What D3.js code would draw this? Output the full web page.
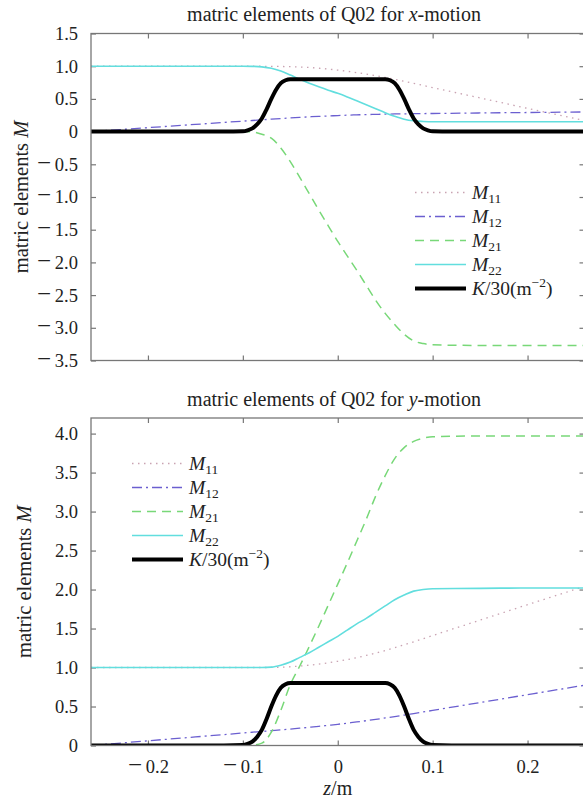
<!DOCTYPE html>
<html><head><meta charset="utf-8">
<script src="https://cdn.jsdelivr.net/npm/d3@7"></script>
<style>
body{margin:0;background:#fff}
text{font-family:"Liberation Serif","Times New Roman",serif;fill:#222}
</style>
</head><body>
<svg id="chart" width="583" height="804"></svg>
<script>
// ---------- data ----------
const zGrid = [-0.26,-0.2,-0.15,-0.1,-0.09,-0.08,-0.07,-0.06,-0.05,-0.04,-0.03,-0.02,-0.01,0,0.01,0.02,0.03,0.04,0.05,0.06,0.07,0.08,0.09,0.1,0.15,0.2,0.26];

// x-motion
const xM11 = [1,1,1,1,1,0.999,0.998,0.996,0.993,0.988,0.98,0.969,0.956,0.94,0.922,0.902,0.88,0.855,0.828,0.8,0.77,0.738,0.706,0.673,0.515,0.355,0.17];
const xM12 = [0,0.06,0.11,0.16,0.17,0.18,0.19,0.2,0.209,0.218,0.226,0.233,0.239,0.245,0.251,0.256,0.26,0.264,0.267,0.27,0.272,0.274,0.276,0.277,0.285,0.292,0.30];
const xM21 = [0,0,0,0,-0.005,-0.04,-0.1,-0.25,-0.46,-0.7,-0.95,-1.2,-1.44,-1.68,-1.9,-2.12,-2.35,-2.58,-2.78,-2.95,-3.1,-3.2,-3.24,-3.26,-3.27,-3.27,-3.27];
const xM22 = [1,1,1,1,0.998,0.99,0.968,0.925,0.865,0.8,0.74,0.685,0.633,0.585,0.53,0.47,0.41,0.35,0.29,0.235,0.19,0.165,0.155,0.15,0.15,0.15,0.15];

// y-motion
const yM11 = [1,1,1,1,1,1,1.001,1.004,1.01,1.019,1.03,1.044,1.06,1.08,1.102,1.127,1.155,1.185,1.218,1.254,1.292,1.33,1.37,1.41,1.608,1.806,2.04];
const yM12 = [0,0.06,0.11,0.16,0.17,0.18,0.19,0.2,0.211,0.222,0.234,0.246,0.259,0.272,0.287,0.302,0.318,0.335,0.353,0.371,0.39,0.41,0.43,0.45,0.551,0.652,0.773];
const yM21 = [0,0,0,0,0.005,0.03,0.17,0.45,0.78,1.02,1.27,1.53,1.8,2.07,2.34,2.62,2.9,3.2,3.46,3.68,3.82,3.9,3.94,3.96,3.97,3.97,3.97];
const yM22 = [1,1,1,1,1,1,1.005,1.03,1.07,1.13,1.19,1.26,1.33,1.40,1.48,1.56,1.63,1.71,1.79,1.87,1.93,1.98,2.0,2.01,2.015,2.02,2.02];

// gradient K/30 (same quadrupole)
const zK = [-0.26,-0.12,-0.1,-0.095,-0.09,-0.085,-0.08,-0.075,-0.07,-0.065,-0.06,-0.055,-0.05,0.05,0.055,0.06,0.065,0.07,0.075,0.08,0.085,0.09,0.095,0.1,0.12,0.26];
const kOver30 = [0,0,0.005,0.02,0.05,0.11,0.2,0.34,0.5,0.64,0.74,0.785,0.8,0.8,0.785,0.74,0.64,0.5,0.34,0.2,0.11,0.05,0.02,0.005,0,0];

const xTicks = [-0.2,-0.1,0,0.1,0.2];
const yTicksTop = [1.5,1.0,0.5,0,-0.5,-1.0,-1.5,-2.0,-2.5,-3.0,-3.5];
const yTicksBottom = [0,0.5,1.0,1.5,2.0,2.5,3.0,3.5,4.0];
const legendNames = ["11","12","21","22"];

// ---------- styles ----------
const styles = [
  {color:"#c9a3b2", width:1.3, dash:"1.5,4.5"},
  {color:"#6b5fd0", width:1.3, dash:"10,4,2,4"},
  {color:"#78d878", width:1.5, dash:"9,6"},
  {color:"#62dede", width:1.6, dash:null},
  {color:"#000000", width:4, dash:null}
];

const svg = d3.select("#chart");
const X0 = 91, X1 = 584.5;
const x = d3.scaleLinear().domain([-0.26,0.26]).range([X0,X1]);
const fmt = v => v === 0 ? "0" : d3.format(".1f")(Math.abs(v));

function labelTicks(sel){
  sel.selectAll(".tick text").each(function(d){
    const t = d3.select(this);
    if (t.text() === "") return;
    t.text(null);
    if (d < 0){
      t.append("tspan").attr("font-size",25).text("\u2212");
      t.append("tspan").text("\u2009" + fmt(d));
    } else {
      t.append("tspan").text(fmt(d));
    }
  });
}

function panel(opts){
  const {top,bottom,domain,yTicks,series,title,showX,legend,ylx} = opts;
  const y = d3.scaleLinear().domain(domain).range([bottom,top]);
  const g = svg.append("g");
  const clipId = "clip" + Math.round(top);
  svg.append("clipPath").attr("id",clipId).append("rect")
    .attr("x",X0).attr("y",top).attr("width",X1-X0).attr("height",bottom-top);

  // axes (inward ticks)
  const ax = [
    d3.axisLeft(y).tickValues(yTicks).tickSize(-5).tickPadding(13).tickFormat(fmt),
    d3.axisRight(y).tickValues(yTicks).tickSize(-5).tickFormat(""),
    d3.axisTop(x).tickValues(xTicks).tickSize(-5).tickFormat(""),
    d3.axisBottom(x).tickValues(xTicks).tickSize(-5).tickPadding(14).tickFormat(showX ? fmt : "")
  ];
  const tr = [`translate(${X0},0)`,`translate(${X1},0)`,`translate(0,${top})`,`translate(0,${bottom})`];
  ax.forEach((a,i)=>{
    const ag = g.append("g").attr("transform",tr[i]).call(a);
    ag.select(".domain").remove();
    ag.selectAll("line").attr("stroke","#777").attr("stroke-width",1.2);
    ag.selectAll("text").attr("font-size",18.5).attr("fill","#222")
      .attr("font-family","'Liberation Serif',serif");
    labelTicks(ag);
  });

  // lines
  const lg = g.append("g").attr("clip-path",`url(#${clipId})`);
  series.forEach((s,i)=>{
    const st = styles[i];
    const line = d3.line().x((d,j)=>x(s.z[j])).y(d=>y(d)).curve(d3.curveMonotoneX);
    lg.append("path").datum(s.v).attr("d",line)
      .attr("fill","none").attr("stroke",st.color).attr("stroke-width",st.width)
      .attr("stroke-dasharray",st.dash).attr("stroke-linejoin","round");
  });

  // frame
  g.append("rect").attr("x",X0).attr("y",top).attr("width",X1-X0).attr("height",bottom-top)
    .attr("fill","none").attr("stroke","#777").attr("stroke-width",1.3);

  // title
  const t = g.append("text").attr("x",334).attr("y",top-12.5)
    .attr("text-anchor","middle").attr("font-size",20);
  t.append("tspan").text("matric elements of Q02 for ");
  t.append("tspan").attr("font-style","italic").text(title);
  t.append("tspan").text("-motion");

  // y label
  const yl = g.append("text").attr("transform",`translate(${ylx},${(top+bottom)/2}) rotate(-90)`)
    .attr("text-anchor","middle").attr("font-size",20.5);
  yl.append("tspan").text("matric elements ");
  yl.append("tspan").attr("font-style","italic").text("M");

  // legend
  const {lx,ly,dy} = legend;
  styles.forEach((st,i)=>{
    const yy = ly + i*dy;
    g.append("line").attr("x1",lx).attr("x2",lx+51).attr("y1",yy).attr("y2",yy)
      .attr("stroke",st.color).attr("stroke-width",st.width).attr("stroke-dasharray",st.dash);
    const tx = g.append("text").attr("x",lx+57).attr("y",yy+6).attr("font-size",19.5);
    if(i<4){
      tx.append("tspan").attr("font-style","italic").text("M");
      tx.append("tspan").attr("font-size",13.5).attr("dy",4).text(legendNames[i]);
    } else {
      tx.append("tspan").attr("font-style","italic").text("K");
      tx.append("tspan").text("/30(m");
      tx.append("tspan").attr("font-size",13.5).attr("dy",-7.5).text("\u22122");
      tx.append("tspan").attr("dy",7.5).text(")");
    }
  });
  return y;
}

panel({
  top:33.5, bottom:360.5, domain:[-3.5,1.5], yTicks:yTicksTop, title:"x", showX:false, ylx:28,
  series:[{z:zGrid,v:xM11},{z:zGrid,v:xM12},{z:zGrid,v:xM21},{z:zGrid,v:xM22},{z:zK,v:kOver30}],
  legend:{lx:415, ly:192.5, dy:24}
});
panel({
  top:418, bottom:745.5, domain:[0,4.2], yTicks:yTicksBottom, title:"y", showX:true, ylx:31,
  series:[{z:zGrid,v:yM11},{z:zGrid,v:yM12},{z:zGrid,v:yM21},{z:zGrid,v:yM22},{z:zK,v:kOver30}],
  legend:{lx:132, ly:463.5, dy:24}
});

// x label
const xl = svg.append("text").attr("x",(X0+X1)/2).attr("y",795).attr("text-anchor","middle").attr("font-size",20);
xl.append("tspan").attr("font-style","italic").text("z");
xl.append("tspan").text("/m");
</script>
</body></html>
